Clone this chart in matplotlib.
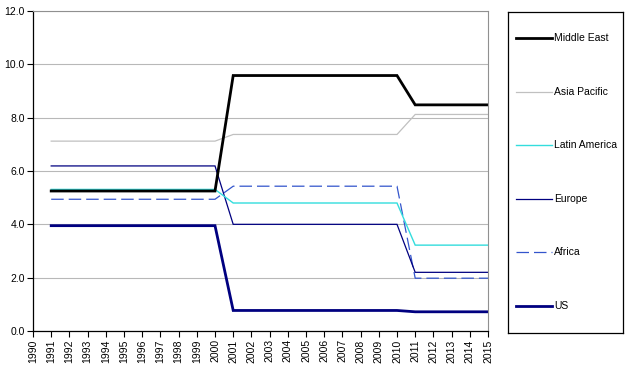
import numpy as np
import matplotlib
matplotlib.use("Agg")
import matplotlib.pyplot as plt

plt.rcParams["font.family"] = ["Liberation Sans", "DejaVu Sans"]

# Data
years = list(range(1991, 2016))
year_ticks = list(range(1990, 2016))


def steps(a, b, c):
    # 1991-2000, 2001-2010, 2011-2015
    return [a] * 10 + [b] * 10 + [c] * 5


middle_east = steps(5.25, 9.58, 8.48)
asia_pacific = steps(7.12, 7.37, 8.12)
latin_america = steps(5.31, 4.8, 3.22)
europe = steps(6.19, 4.0, 2.2)
africa = steps(4.94, 5.43, 1.98)
us = [3.95] * 10 + [0.77] * 10 + [0.72] * 5

series = [
    ("Middle East", middle_east, dict(color="black", lw=2.0)),
    ("Asia Pacific", asia_pacific, dict(color="#c0c0c0", lw=0.9)),
    ("Latin America", latin_america, dict(color="#33dddd", lw=1.0)),
    ("Europe", europe, dict(color="#000080", lw=0.9)),
    ("Africa", africa, dict(color="#3355cc", lw=0.9, dashes=(10, 4))),
    ("US", us, dict(color="#000080", lw=2.0)),
]

fig = plt.figure(figsize=(6.3, 3.67), dpi=100)
ax = fig.add_axes([33 / 630, 36 / 367, 455 / 630, 320 / 367])

# Draw in reverse so Middle East sits on top
for name, vals, style in reversed(series):
    ax.plot(years, vals, solid_joinstyle="miter", **style)

ax.set_xlim(1990, 2015)
ax.set_ylim(0, 12)
ax.set_yticks(np.arange(0, 12.1, 2))
ax.set_yticklabels([f"{v:.1f}" for v in np.arange(0, 12.1, 2)], fontsize=7.5)
ax.set_xticks(year_ticks)
ax.set_xticklabels([str(y) for y in year_ticks], rotation=90, fontsize=7.5)
ax.tick_params(axis="both", direction="out", length=4, width=0.8, pad=2,
               colors="black")
ax.yaxis.grid(True, color="#b8b8b8", lw=0.8)
ax.set_axisbelow(True)
for side in ("left", "bottom"):
    ax.spines[side].set_color("black")
    ax.spines[side].set_linewidth(0.9)
for side in ("top", "right"):
    ax.spines[side].set_color("#909090")
    ax.spines[side].set_linewidth(0.8)

# Legend box drawn by hand to match the tall, evenly spaced layout
lax = fig.add_axes([508 / 630, 34 / 367, 115 / 630, 321 / 367])
lax.set_xlim(0, 1)
lax.set_ylim(0, 1)
lax.set_xticks([])
lax.set_yticks([])
for sp in lax.spines.values():
    sp.set_color("black")
    sp.set_linewidth(0.9)
label_y = [38, 92, 145, 199, 252, 306]
for (name, vals, style), py in zip(series, label_y):
    yy = (333 - py) / 321
    lax.plot([0.07, 0.385], [yy, yy], solid_joinstyle="miter", **style)
    lax.text(0.40, yy, name, fontsize=7.5, va="center", ha="left")

fig.savefig("out.png", dpi=100)
